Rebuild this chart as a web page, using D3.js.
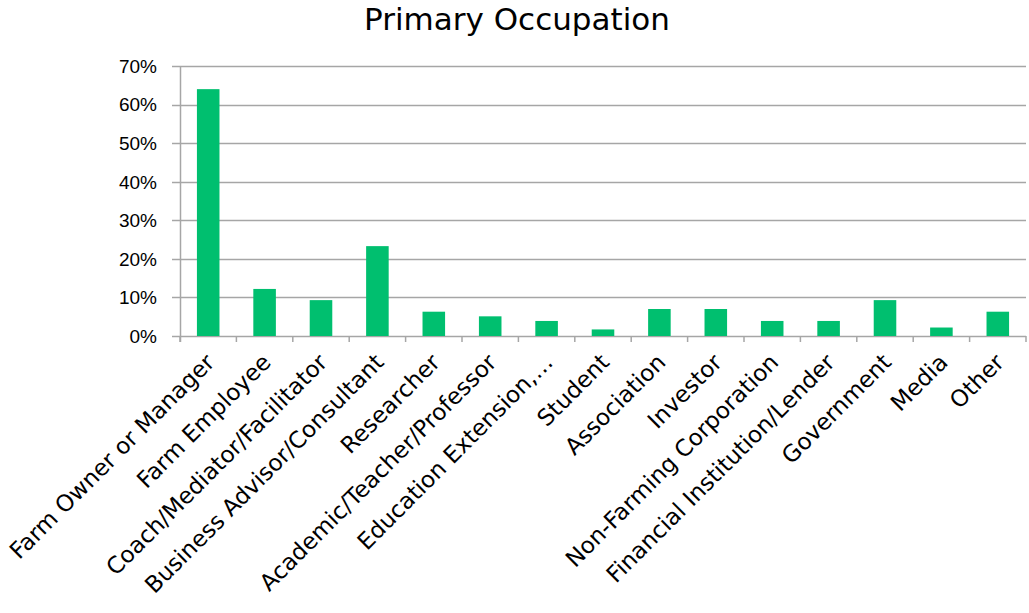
<!DOCTYPE html>
<html>
  <head>
    <script src="https://cdnjs.cloudflare.com/ajax/libs/d3/7.8.5/d3.min.js"></script>
    <style type="text/css">
      body {
        margin: 0;
        padding: 0;
        background: #fff;
      }
      .tick-label {
        font-family: "DejaVu Sans", sans-serif;
        font-size: 23px;
        fill: #000;
      }
      .y-label {
        font-family: "Liberation Sans", sans-serif;
        font-size: 19px;
        fill: #000;
      }
    </style>
  </head>
  <body>
    <div id="chart"></div>
    <script type="text/javascript">
    const categories = [
      'Farm Owner or Manager', 'Farm Employee', 'Coach/Mediator/Facilitator',
      'Business Advisor/Consultant', 'Researcher', 'Academic/Teacher/Professor',
      'Education Extension,…', 'Student', 'Association', 'Investor',
      'Non-Farming Corporation', 'Financial Institution/Lender', 'Government',
      'Media', 'Other'
    ];
    const shares = [0.640, 0.122, 0.093, 0.233, 0.063, 0.051, 0.039, 0.017, 0.070, 0.070, 0.039, 0.039, 0.093, 0.022, 0.063];
    const yTicks = [0, 0.1, 0.2, 0.3, 0.4, 0.5, 0.6, 0.7];
    const title = 'Primary Occupation';

    const width = 1029, height = 613;
    const margin = {left: 180, right: 3, top: 66, bottom: 277};

    const svg = d3.select('#chart')
      .append('svg')
      .attr('width', width)
      .attr('height', height);

    const x = d3.scaleBand()
      .domain(categories)
      .range([margin.left, width - margin.right])
      .paddingInner(0.6)
      .paddingOuter(0.3);

    // band boundaries for the tick marks
    const step = x.step();
    const x0 = margin.left;

    const y = d3.scaleLinear()
      .domain([0, 0.7])
      .range([height - margin.bottom, margin.top]);

    // gridlines
    svg.append('g')
      .selectAll('line')
      .data(yTicks)
      .enter()
      .append('line')
      .attr('x1', x0 - 8)
      .attr('x2', width - margin.right)
      .attr('y1', d => Math.round(y(d)) + 0.5)
      .attr('y2', d => Math.round(y(d)) + 0.5)
      .attr('stroke', '#a6a6a6')
      .attr('stroke-width', 1.5);

    svg.append('g')
      .selectAll('text')
      .data(yTicks)
      .enter()
      .append('text')
      .attr('class', 'y-label')
      .attr('x', 157)
      .attr('y', d => y(d))
      .attr('dy', '0.36em')
      .attr('text-anchor', 'end')
      .text(d => d3.format('.0%')(d));

    // y axis line
    svg.append('line')
      .attr('x1', x0 + 0.5)
      .attr('x2', x0 + 0.5)
      .attr('y1', y(0.7))
      .attr('y2', y(0) + 6)
      .attr('stroke', '#a6a6a6')
      .attr('stroke-width', 1.5);

    // category tick marks
    svg.append('g')
      .selectAll('line')
      .data(d3.range(categories.length + 1))
      .enter()
      .append('line')
      .attr('x1', i => x0 + i * step)
      .attr('x2', i => x0 + i * step)
      .attr('y1', y(0))
      .attr('y2', y(0) + 6)
      .attr('stroke', '#a6a6a6')
      .attr('stroke-width', 1.5);

    svg.append('g')
      .selectAll('rect')
      .data(shares)
      .enter()
      .append('rect')
      .attr('x', (d, i) => x(categories[i]))
      .attr('y', d => y(d))
      .attr('width', x.bandwidth())
      .attr('height', d => y(0) - y(d))
      .attr('fill', '#00bf6f');

    svg.append('g')
      .selectAll('text')
      .data(categories)
      .enter()
      .append('text')
      .attr('class', 'tick-label')
      .attr('text-anchor', 'end')
      .attr('transform', d => `translate(${x(d) + x.bandwidth() / 2 - 4},${y(0) + 16}) rotate(-45)`)
      .attr('dy', '0.72em')
      .text(d => d);

    svg.append('text')
      .attr('x', 517)
      .attr('y', 29.5)
      .attr('text-anchor', 'middle')
      .style('font-family', '"DejaVu Sans", sans-serif')
      .style('font-size', '31px')
      .text(title);
    </script>
  </body>
</html>
